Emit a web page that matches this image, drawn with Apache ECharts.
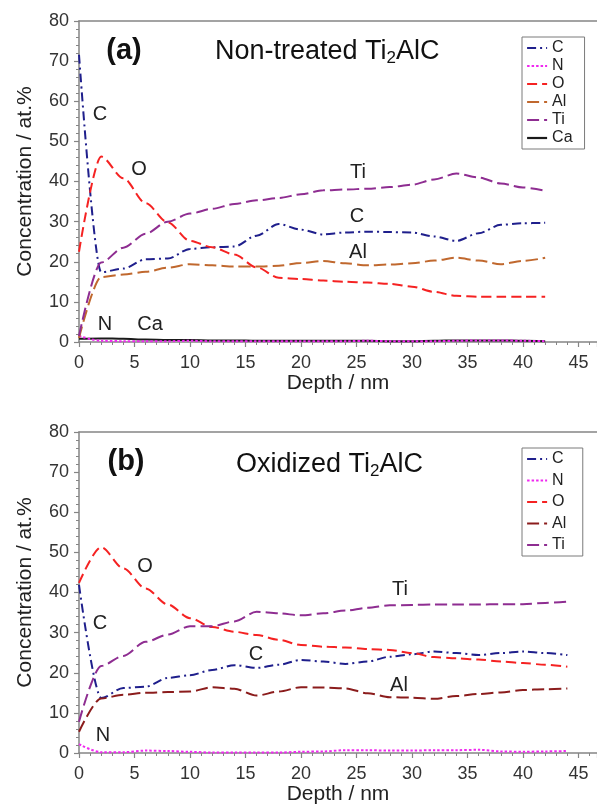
<!DOCTYPE html>
<html>
<head>
<meta charset="utf-8">
<script src="https://cdn.jsdelivr.net/npm/echarts@6/dist/echarts.min.js"></script>
<style>
  html, body { margin: 0; padding: 0; background: #fff; }
  #main { width: 597px; height: 809px; }
</style>
</head>
<body>
<div id="main"></div>
<script>
// depth profiles (nm)
var depthA = [0, 2, 4, 6, 8, 10, 12, 14, 16, 18, 20, 22, 24, 26, 28, 30, 32, 34, 36, 38, 40, 42];
var depthB = [0, 2, 4, 6, 8, 10, 12, 14, 16, 18, 20, 22, 24, 26, 28, 30, 32, 34, 36, 38, 40, 42, 44];

// (a) non-treated
var cA  = [71.6, 17.4, 18.3, 20.6, 20.8, 23.2, 23.6, 23.8, 26.5, 29.4, 28, 26.8, 27.3, 27.5, 27.4, 27.3, 26.3, 25.2, 27.1, 29.2, 29.6, 29.7];
var nA  = [1.5, 0.3, 0.2, 0.2, 0.2, 0.3, 0.2, 0.2, 0.2, 0.2, 0.2, 0.2, 0.2, 0.3, 0.2, 0.2, 0.2, 0.3, 0.4, 0.4, 0.3, 0.2];
var oA  = [22.5, 46.2, 40.8, 34.6, 29.8, 25.2, 23.6, 21.8, 18.6, 16, 15.7, 15.3, 15, 14.8, 14.5, 13.8, 12.5, 11.5, 11.3, 11.3, 11.3, 11.3];
var alA = [1, 16.2, 16.8, 17.5, 18.5, 19.4, 19.1, 18.8, 18.8, 19, 19.7, 20.2, 19.6, 19.1, 19.3, 19.6, 20.3, 21, 20.3, 19.4, 20.2, 21];
var tiA = [1.5, 19.8, 23.5, 27, 30, 32, 33.2, 34.4, 35.3, 35.9, 36.8, 37.8, 38, 38.2, 38.6, 39.2, 40.5, 42, 41, 39.5, 38.5, 37.7];
var caA = [0.8, 0.9, 0.8, 0.6, 0.5, 0.5, 0.4, 0.4, 0.3, 0.3, 0.3, 0.3, 0.3, 0.3, 0.2, 0.2, 0.3, 0.4, 0.4, 0.4, 0.3, 0.2];

// (b) oxidized
var cB  = [41.9, 13.7, 16.2, 16.5, 18.7, 19.4, 20.7, 21.9, 21.2, 22, 23.2, 22.8, 22.2, 22.8, 24, 24.6, 25.3, 24.9, 24.4, 24.9, 25.3, 24.9, 24.4];
var nB  = [2.2, 0.2, 0.2, 0.6, 0.5, 0.3, 0.1, 0.1, 0.1, 0.1, 0.3, 0.4, 0.7, 0.7, 0.6, 0.6, 0.7, 0.7, 0.8, 0.4, 0.3, 0.4, 0.5];
var oB  = [42.4, 51.3, 46, 41, 37, 33.6, 31.4, 30.2, 29.4, 28.2, 26.9, 26.5, 26.3, 25.9, 25.7, 24.9, 23.9, 23.6, 23.3, 22.8, 22.4, 22, 21.5];
var alB = [5.3, 13.6, 14.5, 15, 15.2, 15.3, 16.4, 16, 14.3, 15.3, 16.4, 16.3, 16.1, 14.9, 13.9, 13.8, 13.5, 14.2, 14.7, 15.1, 15.7, 15.9, 16.1];
var tiB = [7.8, 21.7, 24.2, 27.7, 29.5, 31.6, 31.6, 32.8, 35.2, 34.8, 34.3, 34.8, 35.5, 36.2, 36.8, 36.9, 37, 37, 37, 37.1, 37.1, 37.4, 37.7];

var yTicks = [0, 10, 20, 30, 40, 50, 60, 70, 80];
var xTicks = [0, 5, 10, 15, 20, 25, 30, 35, 40, 45];

var FONT = 'Liberation Sans, Arial, sans-serif';
var axisGray = '#858585';

function pairs(xs, ys) {
    return xs.map(function (x, i) { return [x, ys[i]]; });
}

function line(name, color, dash, xs, ys, idx) {
    return {
        name: name,
        type: 'line',
        xAxisIndex: idx * 2,
        yAxisIndex: idx,
        data: pairs(xs, ys),
        symbol: 'none',
        smooth: 0.3,
        smoothMonotone: 'x',
        lineStyle: {color: color, width: 2, type: dash},
        itemStyle: {color: color},
        z: 3
    };
}

var DASHDOT = [9, 4, 2, 4];
var DOT = [2.5, 2];
var DASH = [10, 5];
var LDASH = [12, 5];

function bottomAxis(grid) {
    return {
        type: 'value', gridIndex: grid, position: 'bottom',
        min: 0, max: 46.67, interval: 5,
        name: 'Depth / nm', nameLocation: 'middle', nameGap: 31,
        nameTextStyle: {fontSize: 21, color: '#222', fontFamily: FONT},
        axisLine: {show: true, onZero: false, lineStyle: {color: axisGray, width: 1.5}},
        axisTick: {show: true, length: 5, lineStyle: {color: axisGray, width: 1.2}},
        minorTick: {show: true, splitNumber: 5, length: 3, lineStyle: {color: axisGray, width: 1}},
        axisLabel: {
            fontSize: 18, color: '#333', fontFamily: FONT, margin: 12,
            showMaxLabel: false,
            formatter: function (v) { return xTicks.indexOf(v) >= 0 ? String(v) : ''; }
        },
        splitLine: {show: false}
    };
}

function topAxis(grid) {
    return {
        type: 'value', gridIndex: grid, position: 'top',
        min: 0, max: 46.67,
        axisLine: {show: true, onZero: false, lineStyle: {color: axisGray, width: 1.5}},
        axisTick: {show: false}, axisLabel: {show: false}, splitLine: {show: false}
    };
}

function leftAxis(grid) {
    return {
        type: 'value', gridIndex: grid,
        min: 0, max: 80, interval: 10,
        name: 'Concentration / at.%', nameLocation: 'middle', nameGap: 43,
        nameTextStyle: {fontSize: 21, color: '#222', fontFamily: FONT},
        axisLine: {show: true, lineStyle: {color: axisGray, width: 1.5}},
        axisTick: {show: true, length: 5, lineStyle: {color: axisGray, width: 1.2}},
        minorTick: {show: true, splitNumber: 5, length: 3, lineStyle: {color: axisGray, width: 1}},
        axisLabel: {
            fontSize: 18, color: '#333', fontFamily: FONT, margin: 10,
            formatter: function (v) { return yTicks.indexOf(v) >= 0 ? String(v) : ''; }
        },
        splitLine: {show: false}
    };
}

function legend(names, top, gap) {
    return {
        data: names, orient: 'vertical', left: 522, top: top,
        itemWidth: 20, itemHeight: 12, itemGap: gap,
        padding: [3, 12, 3, 4],
        borderColor: '#7a7a7a', borderWidth: 1,
        itemStyle: {opacity: 0},
        lineStyle: {width: 2.2},
        textStyle: {fontSize: 16, color: '#222', fontFamily: FONT, padding: [0, 0, 0, 0]},
        selectedMode: false
    };
}

// text labels on the plots
var notes = [
    ['C', 100, 114], ['O', 139, 169], ['Ti', 358, 172], ['C', 357, 216], ['Al', 358, 252], ['N', 105, 324], ['Ca', 150, 324],
    ['O', 145, 566], ['C', 100, 623], ['Ti', 400, 589], ['C', 256, 654], ['Al', 399, 685], ['N', 103, 735]
];

var graphics = notes.map(function (n) {
    return {
        type: 'text', x: n[1], y: n[2], z: 10,
        style: {text: n[0], fontSize: 20, fontFamily: FONT, fill: '#222', align: 'center', verticalAlign: 'middle'}
    };
});

function panelTitle(tag, label, tx, tagY, lx, ly) {
    return [{
        type: 'text', x: tx, y: tagY, z: 10,
        style: {text: tag, fontSize: 29, fontWeight: 'bold', fontFamily: FONT, fill: '#111', align: 'center', verticalAlign: 'middle'}
    }, {
        type: 'text', x: lx, y: ly, z: 10,
        style: {
            text: '{m|' + label + ' Ti}{s|2}{m|AlC}',
            align: 'left', verticalAlign: 'middle', fill: '#111',
            rich: {
                m: {fontSize: 27, fontFamily: FONT, fill: '#111', lineHeight: 30, verticalAlign: 'middle'},
                s: {fontSize: 17, fontFamily: FONT, fill: '#111', lineHeight: 15, verticalAlign: 'bottom'}
            }
        }
    }];
}

graphics = graphics.concat(panelTitle('(a)', 'Non-treated', 124, 51, 215, 52));
graphics = graphics.concat(panelTitle('(b)', 'Oxidized', 126, 462, 236, 465));

var chart = echarts.init(document.getElementById('main'), null, {renderer: 'canvas'});
chart.setOption({
    backgroundColor: '#fff',
    animation: false,
    textStyle: {fontFamily: FONT},
    grid: [
        {left: 79, right: 0, top: 21, height: 321},
        {left: 79, right: 0, top: 432, height: 321}
    ],
    xAxis: [bottomAxis(0), topAxis(0), bottomAxis(1), topAxis(1)],
    yAxis: [leftAxis(0), leftAxis(1)],
    legend: [
        legend(['C', 'N', 'O', 'Al', 'Ti', 'Ca'], 37, 2),
        legend(['C ', 'N ', 'O ', 'Al ', 'Ti '], 448, 5.5)
    ],
    series: [
        line('Ca', '#1a1a1a', 'solid', depthA, caA, 0),
        line('C', '#1f1f8c', DASHDOT, depthA, cA, 0),
        line('N', '#f028f0', DOT, depthA, nA, 0),
        line('O', '#f52222', DASH, depthA, oA, 0),
        line('Al', '#c0682e', LDASH, depthA, alA, 0),
        line('Ti', '#8e2d91', LDASH, depthA, tiA, 0),

        line('C ', '#1f1f8c', DASHDOT, depthB, cB, 1),
        line('N ', '#f028f0', DOT, depthB, nB, 1),
        line('O ', '#f52222', DASH, depthB, oB, 1),
        line('Al ', '#8b1c1c', LDASH, depthB, alB, 1),
        line('Ti ', '#8e2d91', LDASH, depthB, tiB, 1)
    ],
    graphic: graphics
});
</script>
</body>
</html>
